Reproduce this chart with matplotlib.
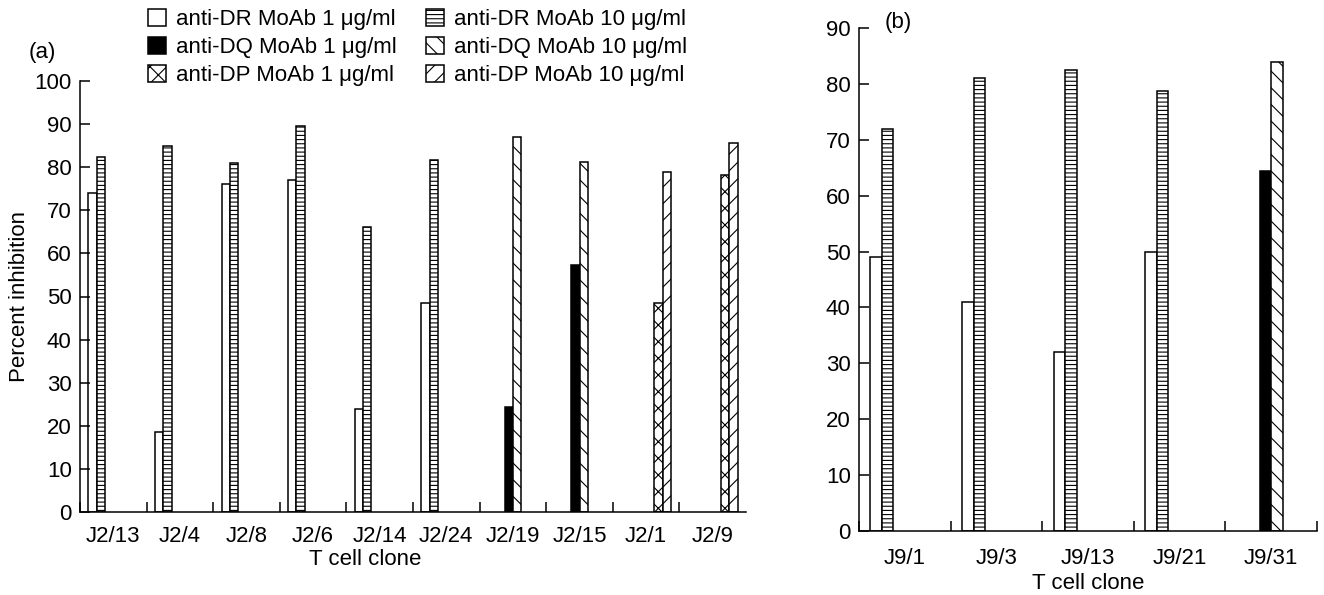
import numpy as np
import matplotlib
matplotlib.use("Agg")
import matplotlib.pyplot as plt
from matplotlib.patches import Patch

plt.rcParams['font.family'] = ['Liberation Sans', 'DejaVu Sans']
plt.rcParams['font.size'] = 16
plt.rcParams['hatch.linewidth'] = 0.8

nan = np.nan

# panel (a)
clones_a = ['J2/13', 'J2/4', 'J2/8', 'J2/6', 'J2/14', 'J2/24', 'J2/19', 'J2/15', 'J2/1', 'J2/9']
dr1_a = [74, 18.6, 76, 77, 24, 48.6, nan, nan, nan, nan]
dr10_a = [82.4, 85, 81, 89.6, 66.2, 81.7, nan, nan, nan, nan]
dq1_a = [nan, nan, nan, nan, nan, nan, 24.4, 57.2, nan, nan]
dq10_a = [nan, nan, nan, nan, nan, nan, 87.1, 81.1, nan, nan]
dp1_a = [nan, nan, nan, nan, nan, nan, nan, nan, 48.6, 78.2]
dp10_a = [nan, nan, nan, nan, nan, nan, nan, nan, 79.0, 85.6]

# panel (b)
clones_b = ['J9/1', 'J9/3', 'J9/13', 'J9/21', 'J9/31']
dr1_b = [49, 41, 32, 50, nan]
dr10_b = [72, 81, 82.5, 78.7, nan]
dq1_b = [nan, nan, nan, nan, 64.5]
dq10_b = [nan, nan, nan, nan, 84]
dp1_b = [nan, nan, nan, nan, nan]
dp10_b = [nan, nan, nan, nan, nan]

labels = ['anti-DR MoAb 1 \u03bcg/ml', 'anti-DR MoAb 10 \u03bcg/ml',
          'anti-DQ MoAb 1 \u03bcg/ml', 'anti-DQ MoAb 10 \u03bcg/ml',
          'anti-DP MoAb 1 \u03bcg/ml', 'anti-DP MoAb 10 \u03bcg/ml']
styles = [dict(facecolor='white', hatch=None),
          dict(facecolor='white', hatch='----'),
          dict(facecolor='black', hatch=None),
          dict(facecolor='white', hatch='\\\\'),
          dict(facecolor='white', hatch='xx'),
          dict(facecolor='white', hatch='//')]

W, H = 1324, 595
fig = plt.figure(figsize=(W / 100, H / 100), dpi=100)
ax_a = fig.add_axes([80 / W, (H - 512) / H, 666 / W, 431 / H])
ax_b = fig.add_axes([859 / W, (H - 531) / H, 458 / W, 503 / H])

w = 0.125


def draw(ax, clones, series, ymax, last_tick, pad):
    x = np.arange(len(clones))
    for i, vals in enumerate(series):
        ax.bar(x + (i - 2.5) * w, vals, w, edgecolor='black', linewidth=1.1,
               **styles[i])
    ax.set_xlim(-0.5, len(clones) - 0.5)
    ax.set_ylim(0, ymax)
    ax.set_yticks(np.arange(0, ymax + 1, 10))
    ax.set_xticks(x)
    ax.set_xticklabels(clones)
    nb = len(clones) + 1 if last_tick else len(clones)
    ax.set_xticks(np.arange(nb) - 0.5, minor=True)
    ax.tick_params(axis='x', which='major', length=0, pad=pad)
    ax.tick_params(axis='x', which='minor', direction='in', length=7, width=1.1)
    ax.tick_params(axis='y', direction='in', length=7, width=1.1, pad=6)
    for s in ['top', 'right']:
        ax.spines[s].set_visible(False)
    for s in ['left', 'bottom']:
        ax.spines[s].set_linewidth(1.1)
    ax.set_xlabel('T cell clone', labelpad=3)


draw(ax_a, clones_a, [dr1_a, dr10_a, dq1_a, dq10_a, dp1_a, dp10_a], 100, False, 10)
draw(ax_b, clones_b, [dr1_b, dr10_b, dq1_b, dq10_b, dp1_b, dp10_b], 90, True, 12)
ax_a.xaxis.set_label_coords((365 - 80) / 666, -0.085)
ax_a.set_ylabel('Percent inhibition', labelpad=3)

ax_a.text(-0.057, 1.065, '(a)', transform=ax_a.transAxes, ha='center', va='center')
ax_b.text(0.085, 1.01, '(b)', transform=ax_b.transAxes, ha='center', va='center')

order = [0, 2, 4, 1, 3, 5]
handles = [Patch(edgecolor='black', linewidth=1.1, **styles[i]) for i in order]
fig.legend(handles, [labels[i] for i in order], ncol=2, frameon=False,
           loc='upper left', bbox_to_anchor=(139 / W, 1.0),
           handlelength=0.8, handleheight=0.8, handletextpad=0.45,
           columnspacing=1.35, labelspacing=0.3, borderaxespad=0)

fig.savefig('out.png', dpi=100)
